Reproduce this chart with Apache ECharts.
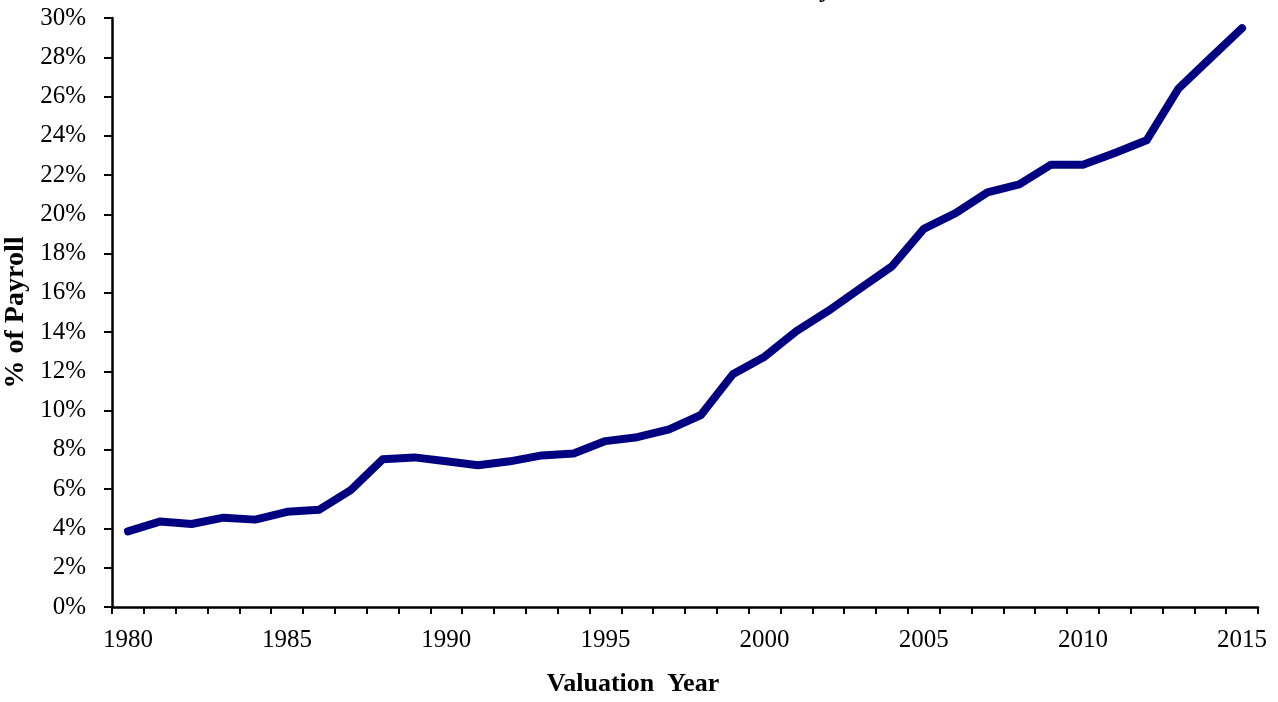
<!DOCTYPE html>
<html>
<head>
<meta charset="utf-8">
<script src="https://cdn.jsdelivr.net/npm/echarts@6/dist/echarts.min.js"></script>
<style>
  html, body { margin: 0; padding: 0; background: #fff; }
  #chart { width: 1278px; height: 702px; }
</style>
</head>
<body>
<div id="chart"></div>
<script>
// valuation years and contribution rate (% of payroll)
const years = ['1980', '1981', '1982', '1983', '1984', '1985', '1986', '1987', '1988', '1989',
  '1990', '1991', '1992', '1993', '1994', '1995', '1996', '1997', '1998', '1999',
  '2000', '2001', '2002', '2003', '2004', '2005', '2006', '2007', '2008', '2009',
  '2010', '2011', '2012', '2013', '2014', '2015']
const rates = [3.85, 4.35, 4.23, 4.55, 4.45, 4.85, 4.95, 5.95, 7.52, 7.62,
  7.42, 7.22, 7.42, 7.72, 7.82, 8.45, 8.65, 9.05, 9.78, 11.85,
  12.75, 14.05, 15.08, 16.22, 17.35, 19.26, 20.06, 21.12, 21.53, 22.53,
  22.53, 23.13, 23.77, 26.4, 27.95, 29.48]

const titleText = 'Contribution Rate History'
const serif = '"Liberation Serif", "DejaVu Serif", serif'

const myChart = echarts.init(document.getElementById('chart'))
const option = {
  animation: false,
  backgroundColor: '#fff',
  graphic: [
    {
      // title sits mostly above the visible area
      type: 'text',
      right: 446,
      top: -23,
      style: {
        text: titleText,
        font: 'bold 26px ' + serif,
        fill: '#000'
      }
    }
  ],
  grid: {
    left: 112,
    right: 20,
    top: 18,
    bottom: 95,
    containLabel: false,
    outerBoundsMode: 'none'
  },
  xAxis: {
    type: 'category',
    data: years,
    boundaryGap: true,
    name: 'Valuation  Year',
    nameLocation: 'middle',
    nameGap: 64,
    nameTextStyle: {
      fontFamily: serif,
      fontWeight: 'bold',
      fontSize: 26,
      color: '#000',
      verticalAlign: 'top',
      padding: [0, 104, 0, 0]
    },
    axisLine: { lineStyle: { color: '#000', width: 2.5 } },
    axisTick: { show: true, interval: 0, length: 7, lineStyle: { color: '#000', width: 2 } },
    splitLine: { show: false },
    axisLabel: {
      interval: 4,
      fontFamily: serif,
      fontSize: 25,
      color: '#000',
      margin: 21
    }
  },
  yAxis: {
    type: 'value',
    min: 0,
    max: 30,
    interval: 2,
    name: '% of Payroll',
    nameLocation: 'middle',
    nameGap: 74,
    nameTextStyle: {
      fontFamily: serif,
      fontWeight: 'bold',
      fontSize: 28,
      color: '#000'
    },
    axisLine: { show: true, lineStyle: { color: '#000', width: 2.5 } },
    axisTick: { show: true, length: 8, lineStyle: { color: '#000', width: 2 } },
    splitLine: { show: false },
    axisLabel: {
      fontFamily: serif,
      fontSize: 25,
      color: '#000',
      margin: 26,
      formatter: '{value}%'
    }
  },
  series: [
    {
      name: 'Contribution Rate',
      type: 'line',
      data: rates,
      showSymbol: false,
      symbol: 'none',
      lineStyle: { color: '#000080', width: 8, cap: 'round', join: 'round' },
      itemStyle: { color: '#000080' }
    }
  ]
}
myChart.setOption(option)
</script>
</body>
</html>
